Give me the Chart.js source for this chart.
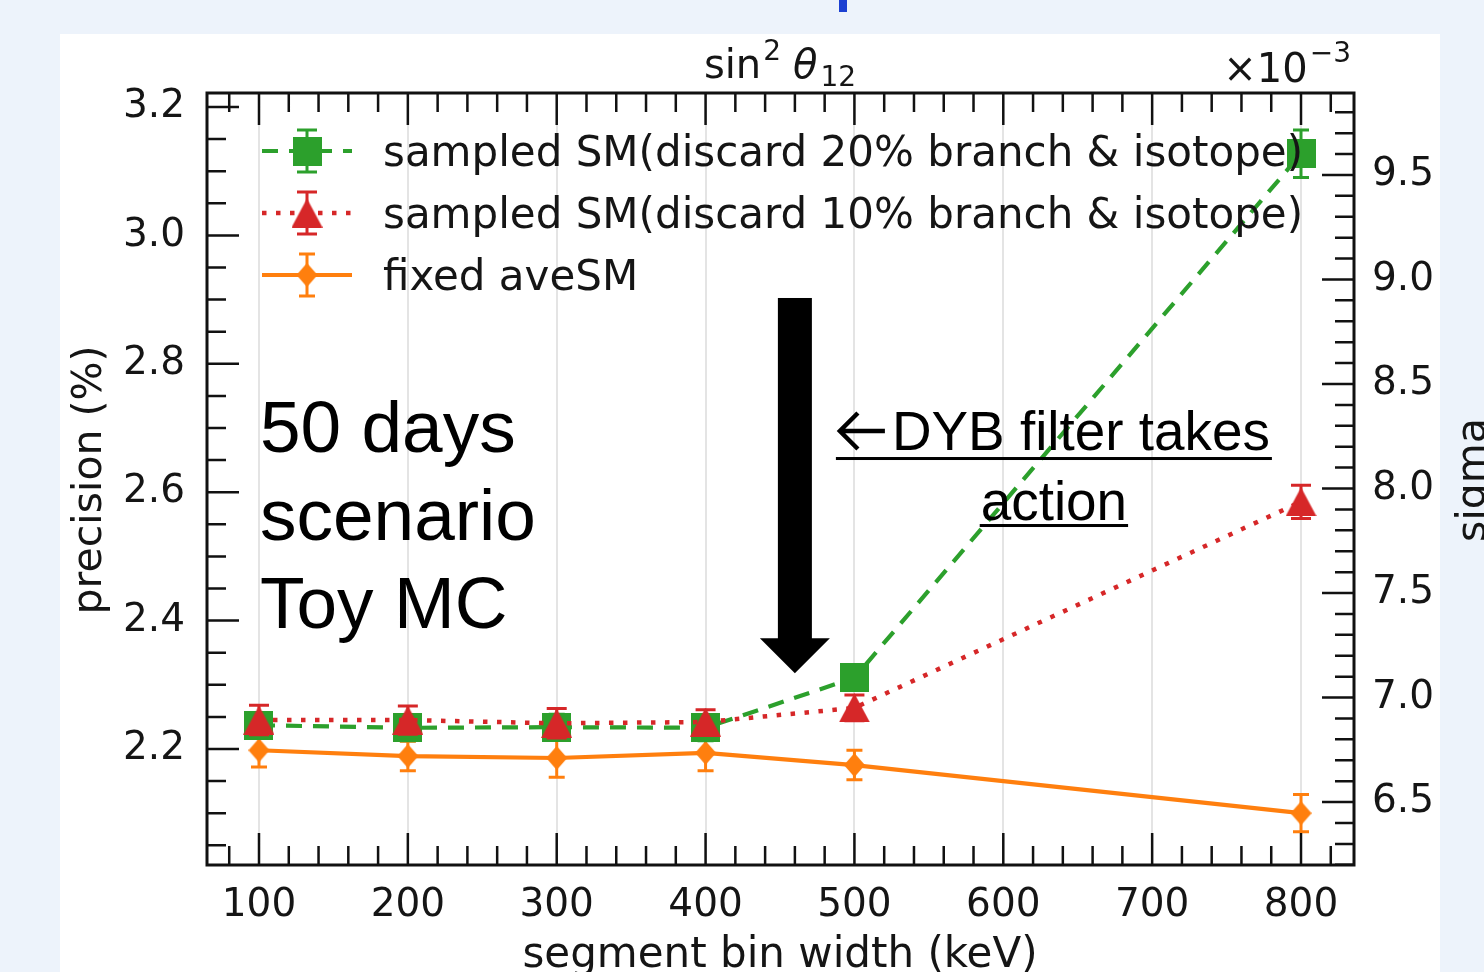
<!DOCTYPE html>
<html>
<head>
<meta charset="utf-8">
<script src="https://cdn.jsdelivr.net/npm/chart.js@4.4.0/dist/chart.umd.min.js"></script>
<style>
html,body{margin:0;padding:0;background:#edf3fb;overflow:hidden;width:1484px;height:972px}
#c{position:absolute;left:0;top:0;display:block}
</style>
</head>
<body>
<canvas id="c" width="1484" height="972" style="width:1484px;height:972px"></canvas>
<script>
// ---------- data ----------
const binWidths = [100, 200, 300, 400, 500, 800];
const sampled20 = [2.237, 2.233, 2.234, 2.233, 2.311, 3.127];
const sampled20Err = [0.020, 0.020, 0.020, 0.020, 0.020, 0.037];
const sampled10 = [2.245, 2.245, 2.240, 2.242, 2.264, 2.585];
const sampled10Err = [0.023, 0.022, 0.023, 0.019, 0.020, 0.026];
const fixedAve = [2.198, 2.189, 2.186, 2.194, 2.175, 2.100];
const fixedAveErr = [0.026, 0.023, 0.030, 0.028, 0.023, 0.029];

const xTickValues = [100, 200, 300, 400, 500, 600, 700, 800];
const leftTickValues = [2.2, 2.4, 2.6, 2.8, 3.0, 3.2];
const rightTickValues = [6.5, 7.0, 7.5, 8.0, 8.5, 9.0, 9.5];

const seriesLabels = [
  'sampled SM(discard 20% branch & isotope)',
  'sampled SM(discard 10% branch & isotope)',
  'fixed aveSM'
];
const scenarioLines = ['50 days', 'scenario', 'Toy MC'];
const dybLines = ['DYB filter takes', 'action'];

// axis ranges
const X_MIN = 65.07, X_MAX = 835.6;
const Y_MIN = 2.0193, Y_MAX = 3.2218;
const Y2_MIN = 6.199, Y2_MAX = 9.892;

// annotation anchors (data coordinates)
const arrowAt = { x: 460, yTop: 2.9025, yTip: 2.318 };
const scenarioAt = { x: 100, y: 2.6626 };
const dybAt = { x: 634, y: 2.6657 };

// ---------- colours ----------
const GREEN = '#2ca02c', RED = '#d62728', ORANGE = '#ff7f0e';
const TXT = '#151515';

function makeMarker(kind, color, w, h) {
  const c = document.createElement('canvas');
  c.width = w; c.height = h;
  const g = c.getContext('2d');
  g.fillStyle = color;
  g.beginPath();
  if (kind === 'square') g.rect(0, 0, w, h);
  else if (kind === 'tri') { g.moveTo(w / 2, 0); g.lineTo(w, h); g.lineTo(0, h); g.closePath(); }
  else { g.moveTo(w / 2, 0); g.lineTo(w, h / 2); g.lineTo(w / 2, h); g.lineTo(0, h / 2); g.closePath(); }
  g.fill();
  return c;
}
const mSquare = makeMarker('square', GREEN, 29, 29);
const mTri = makeMarker('tri', RED, 31, 29);
const mDiamond = makeMarker('diamond', ORANGE, 21, 24);

const toXY = (ys) => binWidths.map((x, i) => ({ x: x, y: ys[i] }));

const datasets = [
  { label: seriesLabels[1], data: toXY(sampled10), errors: sampled10Err, capW: 10,
    borderColor: RED, backgroundColor: RED, borderWidth: 4.5, borderDash: [4.5, 9.5], borderCapStyle: 'butt',
    pointStyle: mTri, pointRadius: 14, pointHoverRadius: 14, showLine: true, tension: 0 },
  { label: seriesLabels[0], data: toXY(sampled20), errors: sampled20Err, capW: 8,
    borderColor: GREEN, backgroundColor: GREEN, borderWidth: 4.2, borderDash: [16, 11], borderCapStyle: 'butt',
    pointStyle: mSquare, pointRadius: 14, pointHoverRadius: 14, showLine: true, tension: 0 },
  { label: seriesLabels[2], data: toXY(fixedAve), errors: fixedAveErr, capW: 8,
    borderColor: ORANGE, backgroundColor: ORANGE, borderWidth: 4.2, borderDash: [],
    pointStyle: mDiamond, pointRadius: 10, pointHoverRadius: 10, showLine: true, tension: 0 }
];

// ---------- plugins ----------
const bgPlugin = {
  id: 'bg',
  beforeDraw(chart) {
    const ctx = chart.ctx;
    ctx.save();
    ctx.fillStyle = '#edf3fb';
    ctx.fillRect(0, 0, chart.width, chart.height);
    ctx.fillStyle = '#ffffff';
    ctx.fillRect(60, 34, 1380, 938);
    ctx.fillStyle = '#1c40d2';
    ctx.fillRect(839, 0, 8, 12);
    ctx.restore();
  }
};

function drawErr(ctx, px, y1, y2, cw, color) {
  ctx.save();
  ctx.strokeStyle = color;
  ctx.lineWidth = 3;
  ctx.setLineDash([]);
  ctx.beginPath();
  ctx.moveTo(px, y1); ctx.lineTo(px, y2);
  ctx.moveTo(px - cw, y1); ctx.lineTo(px + cw, y1);
  ctx.moveTo(px - cw, y2); ctx.lineTo(px + cw, y2);
  ctx.stroke();
  ctx.restore();
}

const errPlugin = {
  id: 'err',
  beforeDatasetDraw(chart, args) {
    const ds = chart.data.datasets[args.index];
    if (!ds.errors) return;
    const xs = chart.scales.x, ys = chart.scales.y;
    ds.data.forEach((p, i) => {
      const px = xs.getPixelForValue(p.x);
      drawErr(chart.ctx, px, ys.getPixelForValue(p.y + ds.errors[i]), ys.getPixelForValue(p.y - ds.errors[i]), ds.capW, ds.borderColor);
    });
  }
};

function range(a, b, step) {
  const out = [];
  for (let v = Math.ceil(a / step - 1e-9) * step; v <= b + 1e-9; v += step) out.push(Math.round(v * 1000) / 1000);
  return out;
}

const framePlugin = {
  id: 'frame',
  afterDatasetsDraw(chart) {
    const ctx = chart.ctx, a = chart.chartArea;
    const xs = chart.scales.x, ys = chart.scales.y, y2 = chart.scales.y2;
    const MAJ = 32, MIN = 19;
    ctx.save();
    ctx.strokeStyle = '#111';
    ctx.lineWidth = 2.5;
    ctx.beginPath();
    range(X_MIN, X_MAX, 20).forEach(v => {
      const px = xs.getPixelForValue(v);
      const len = xTickValues.includes(v) ? MAJ : MIN;
      ctx.moveTo(px, a.bottom); ctx.lineTo(px, a.bottom - len);
      ctx.moveTo(px, a.top); ctx.lineTo(px, a.top + len);
    });
    range(Y_MIN, Y_MAX, 0.05).forEach(v => {
      const py = ys.getPixelForValue(v);
      const len = leftTickValues.some(t => Math.abs(t - v) < 1e-6) ? MAJ : MIN;
      ctx.moveTo(a.left, py); ctx.lineTo(a.left + len, py);
    });
    range(Y2_MIN, Y2_MAX, 0.1).forEach(v => {
      const py = y2.getPixelForValue(v);
      const len = rightTickValues.some(t => Math.abs(t - v) < 1e-6) ? MAJ : MIN;
      ctx.moveTo(a.right, py); ctx.lineTo(a.right - len, py);
    });
    ctx.stroke();
    ctx.lineWidth = 3;
    ctx.strokeRect(a.left, a.top, a.right - a.left, a.bottom - a.top);
    ctx.restore();
  }
};

const textPlugin = {
  id: 'texts',
  afterDraw(chart) {
    const ctx = chart.ctx;
    const xs = chart.scales.x, ys = chart.scales.y;
    ctx.save();
    ctx.fillStyle = TXT;
    ctx.textBaseline = 'alphabetic';

    // top title: sin^2 theta_12
    const big = '40px "DejaVu Sans"', small = '28px "DejaVu Sans"', ital = 'italic 40px "DejaVu Sans"';
    const pieces = [
      { t: 'sin', f: big, dy: 0, gap: 2 },
      { t: '2', f: small, dy: -18, gap: 12 },
      { t: '\u03b8', f: ital, dy: 0, gap: 3 },
      { t: '12', f: small, dy: 8, gap: 0 }
    ];
    let tw = 0;
    pieces.forEach(p => { ctx.font = p.f; p.w = ctx.measureText(p.t).width; tw += p.w + p.gap; });
    let cx = 780 - tw / 2;
    ctx.textAlign = 'left';
    pieces.forEach(p => { ctx.font = p.f; ctx.fillText(p.t, cx, 78 + p.dy); cx += p.w + p.gap; });

    // offset text x10^-3
    ctx.font = small;
    const supW = ctx.measureText('\u22123').width;
    ctx.textAlign = 'right';
    ctx.fillText('\u22123', 1351, 62);
    ctx.font = big;
    ctx.fillText('\u00d710', 1351 - supW - 2, 82);

    // axis labels
    ctx.font = '41px "DejaVu Sans"';
    ctx.textAlign = 'center';
    ctx.save(); ctx.translate(101, 480); ctx.rotate(-Math.PI / 2); ctx.fillText('precision (%)', 0, 0); ctx.restore();
    ctx.save(); ctx.translate(1485, 480); ctx.rotate(-Math.PI / 2); ctx.fillText('sigma', 0, 0); ctx.restore();
    ctx.font = '42px "DejaVu Sans"';
    ctx.fillText('segment bin width (keV)', 780, 967);

    // legend
    const legend = [
      { color: GREEN, dash: [16, 11], lw: 4.2, img: mSquare, cap: 10 },
      { color: RED, dash: [4.5, 9.5], lw: 4.5, img: mTri, cap: 10 },
      { color: ORANGE, dash: [], lw: 4.2, img: mDiamond, cap: 8 }
    ];
    legend.forEach((L, i) => {
      const y = 151 + i * 62;
      ctx.save();
      ctx.strokeStyle = L.color; ctx.lineWidth = L.lw; ctx.setLineDash(L.dash); ctx.lineCap = 'butt';
      ctx.beginPath(); ctx.moveTo(262, y); ctx.lineTo(352, y); ctx.stroke();
      ctx.restore();
      drawErr(ctx, 307, y - 21, y + 21, L.cap, L.color);
      ctx.drawImage(L.img, 307 - L.img.width / 2, y - L.img.height / 2);
      ctx.fillStyle = TXT;
      ctx.font = '42px "DejaVu Sans"';
      ctx.textAlign = 'left';
      ctx.fillText(seriesLabels[i], 383, y + 15);
    });

    // big black arrow
    const ax = xs.getPixelForValue(arrowAt.x);
    const aTop = ys.getPixelForValue(arrowAt.yTop);
    const aTip = ys.getPixelForValue(arrowAt.yTip);
    ctx.fillStyle = '#000';
    ctx.fillRect(ax - 17, aTop, 34, aTip - 34 - aTop + 1);
    ctx.beginPath();
    ctx.moveTo(ax - 35, aTip - 35); ctx.lineTo(ax + 35, aTip - 35); ctx.lineTo(ax, aTip); ctx.closePath();
    ctx.fill();

    // 50 days scenario Toy MC
    ctx.fillStyle = '#000';
    ctx.font = '73px "Liberation Sans", Arial, sans-serif';
    ctx.textAlign = 'left';
    const sx = xs.getPixelForValue(scenarioAt.x) + 1;
    const sy = ys.getPixelForValue(scenarioAt.y);
    scenarioLines.forEach((t, i) => ctx.fillText(t, sx, sy + i * 88));

    // DYB filter annotation
    const dcx = xs.getPixelForValue(dybAt.x);
    const dby = ys.getPixelForValue(dybAt.y);
    // left arrow glyph
    ctx.save();
    ctx.strokeStyle = '#000'; ctx.lineWidth = 4.5; ctx.lineCap = 'butt'; ctx.lineJoin = 'miter';
    ctx.beginPath();
    ctx.moveTo(dcx - 169, dby - 19); ctx.lineTo(dcx - 213, dby - 19);
    ctx.moveTo(dcx - 196, dby - 37); ctx.lineTo(dcx - 214, dby - 19); ctx.lineTo(dcx - 196, dby - 1);
    ctx.stroke();
    ctx.restore();
    ctx.font = '55px "Liberation Sans", Arial, sans-serif';
    const w1 = ctx.measureText(dybLines[0]).width;
    const k = 378 / w1;
    const w2 = ctx.measureText(dybLines[1]).width * k;
    ctx.save();
    ctx.translate(dcx + 27, dby); ctx.scale(k, 1); ctx.textAlign = 'center';
    ctx.fillText(dybLines[0], 0, 0);
    ctx.restore();
    ctx.save();
    ctx.translate(dcx, dby); ctx.scale(k, 1); ctx.textAlign = 'center';
    ctx.fillText(dybLines[1], 0, 70);
    ctx.restore();
    ctx.fillRect(dcx - 218, dby + 7, 436, 3);
    ctx.fillRect(dcx - w2 / 2 - 1, dby + 74, w2 + 2, 3);
    ctx.restore();
  }
};

// ---------- chart ----------
const tickFont = { family: 'DejaVu Sans', size: 39 };
new Chart(document.getElementById('c'), {
  type: 'line',
  data: { datasets: datasets },
  plugins: [bgPlugin, errPlugin, framePlugin, textPlugin],
  options: {
    responsive: false,
    animation: false,
    events: [],
    layout: { padding: { top: 93, left: 0, right: 0, bottom: 0 } },
    plugins: { legend: { display: false }, tooltip: { enabled: false }, title: { display: false } },
    scales: {
      x: {
        type: 'linear', position: 'bottom', min: X_MIN, max: X_MAX,
        afterBuildTicks: s => { s.ticks = xTickValues.map(v => ({ value: v })); },
        afterFit: s => { s.height = 107; },
        grid: { display: true, drawTicks: false, color: '#e4e4e4', lineWidth: 2 },
        border: { display: false },
        ticks: { font: tickFont, color: TXT, padding: 17, maxRotation: 0, autoSkip: false, callback: v => String(v) }
      },
      y: {
        type: 'linear', position: 'left', min: Y_MIN, max: Y_MAX,
        afterBuildTicks: s => { s.ticks = leftTickValues.map(v => ({ value: v })); },
        afterFit: s => { s.width = 207; },
        grid: { display: false, drawTicks: false },
        border: { display: false },
        ticks: { font: tickFont, color: TXT, padding: 22, autoSkip: false, callback: v => Number(v).toFixed(1) }
      },
      y2: {
        type: 'linear', position: 'right', min: Y2_MIN, max: Y2_MAX,
        afterBuildTicks: s => { s.ticks = rightTickValues.map(v => ({ value: v })); },
        afterFit: s => { s.width = 130; },
        grid: { display: false, drawTicks: false },
        border: { display: false },
        ticks: { font: tickFont, color: TXT, padding: 18, autoSkip: false, callback: v => Number(v).toFixed(1) }
      }
    }
  }
});
</script>
</body>
</html>
